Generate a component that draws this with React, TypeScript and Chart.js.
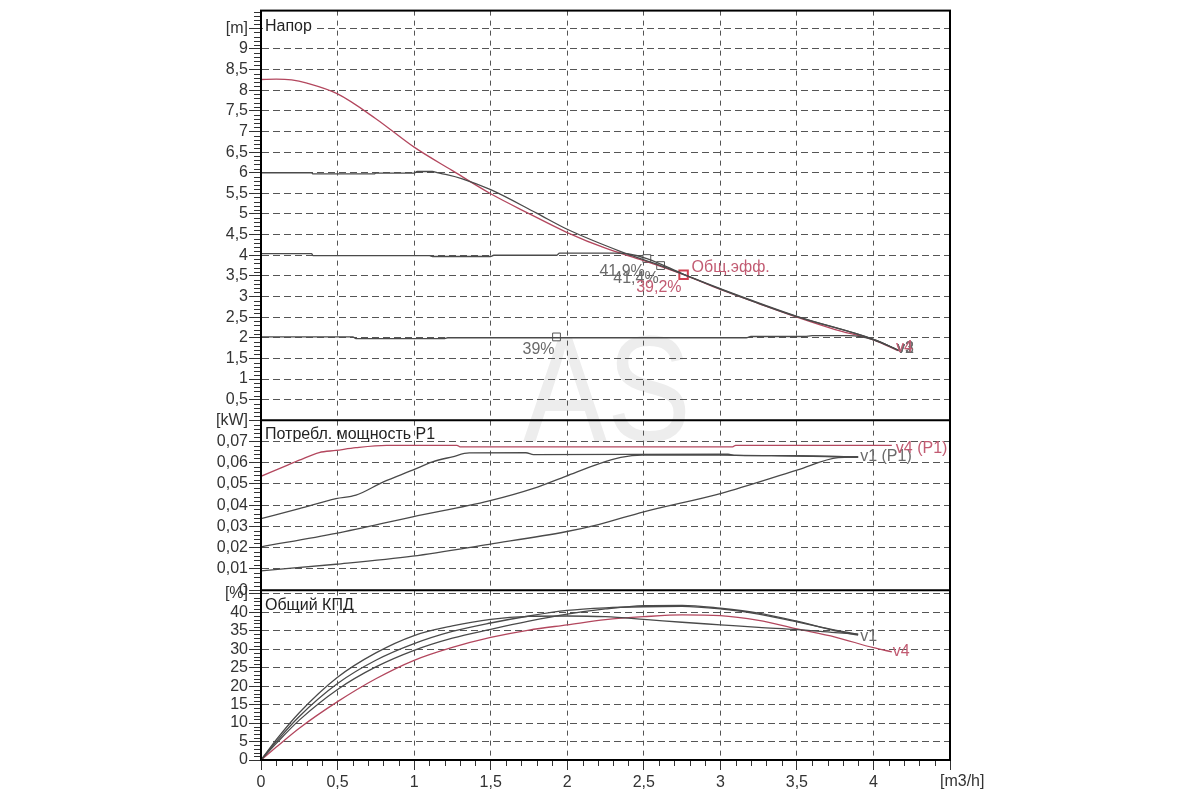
import { useEffect, useRef } from 'react';
import { Chart, registerables } from 'chart.js';

Chart.register(...registerables);

// ---------- axis ticks ----------
const X_TICKS = [0, 0.5, 1, 1.5, 2, 2.5, 3, 3.5, 4, 4.5];
const H_TICKS = [0, 0.5, 1, 1.5, 2, 2.5, 3, 3.5, 4, 4.5, 5, 5.5, 6, 6.5, 7, 7.5, 8, 8.5, 9, 9.5];
const P_TICKS = [0, 0.01, 0.02, 0.03, 0.04, 0.05, 0.06, 0.07, 0.08];
const E_TICKS = [0, 5, 10, 15, 20, 25, 30, 35, 40, 45];

// ---------- head [m] ----------
const H_Q_V4 = [0, 0.1, 0.2, 0.3, 0.5, 0.75, 1.0, 1.25, 1.5, 1.75, 2.0, 2.25, 2.5, 2.76, 3.0, 3.25, 3.5, 3.75, 4.0, 4.16];
const H_V4 = [8.26, 8.27, 8.25, 8.17, 7.91, 7.31, 6.62, 6.05, 5.49, 5.01, 4.55, 4.17, 3.87, 3.53, 3.17, 2.83, 2.5, 2.2, 1.95, 1.69];
const H_Q_V3 = [0, 0.33, 0.34, 0.74, 0.75, 1.0, 1.02, 1.12, 1.15, 1.22, 1.31, 1.5, 1.8, 2.0, 2.35, 2.61, 3.0, 3.5, 4.0, 4.18];
const H_V3 = [6.0, 6.0, 5.97, 5.97, 5.99, 5.99, 6.03, 6.03, 6.0, 5.95, 5.86, 5.59, 5.02, 4.63, 4.09, 3.75, 3.19, 2.52, 1.96, 1.67];
const H_Q_V2 = [0, 0.33, 0.34, 1.1, 1.12, 1.5, 1.52, 1.93, 1.95, 2.3, 2.4, 2.52, 2.76, 3.0, 3.5, 4.0, 4.18];
const H_V2 = [4.04, 4.04, 3.99, 3.99, 3.97, 3.97, 4.0, 4.0, 4.05, 4.05, 4.03, 3.92, 3.54, 3.18, 2.51, 1.96, 1.67];
const H_Q_V1 = [0, 0.6, 0.62, 1.2, 1.22, 3.17, 3.2, 3.55, 3.6, 3.84, 4.0, 4.18];
const H_V1 = [2.02, 2.02, 1.98, 1.98, 2.0, 2.0, 2.03, 2.03, 2.05, 2.05, 1.95, 1.67];

// efficiency markers on head curves
const MARK_Q = [1.93, 2.52, 2.61];
const MARK_H = [2.02, 3.92, 3.75];
const MARK_LABELS = ['39%', '41,9%', '41,4%'];
const MARK_RED_Q = [2.76];
const MARK_RED_H = [3.53];
const MARK_RED_LABEL = '39,2%';
const MARK_RED_NAME = 'Общ.эфф.';

// ---------- power P1 [kW] ----------
const P_Q_V4 = [0, 0.17, 0.25, 0.38, 0.49, 0.62, 0.82, 1.28, 1.3, 3.08, 3.1, 4.12];
const P_V4 = [0.0536, 0.0588, 0.0612, 0.0648, 0.0658, 0.0671, 0.0682, 0.0682, 0.0675, 0.0675, 0.0682, 0.0682];
const P_Q_V3 = [0, 0.25, 0.49, 0.62, 0.8, 0.99, 1.12, 1.25, 1.36, 1.73, 1.78, 3.05, 3.1, 3.5, 3.9];
const P_V3 = [0.0337, 0.0384, 0.0431, 0.0447, 0.051, 0.0565, 0.0604, 0.0628, 0.0646, 0.0647, 0.0638, 0.064, 0.0635, 0.0633, 0.0627];
const P_Q_V2 = [0, 0.49, 0.99, 1.49, 1.78, 1.99, 2.21, 2.35, 2.49, 3.0, 3.5, 3.9];
const P_V2 = [0.0204, 0.0267, 0.0345, 0.042, 0.0479, 0.0536, 0.0596, 0.0625, 0.0636, 0.0636, 0.0631, 0.0627];
const P_Q_V1 = [0, 0.49, 0.99, 1.49, 1.99, 2.21, 2.5, 3.0, 3.5, 3.77, 3.9];
const P_V1 = [0.0091, 0.0122, 0.016, 0.0216, 0.0275, 0.031, 0.0369, 0.0455, 0.0565, 0.0624, 0.0627];

// ---------- total efficiency [%] ----------
const E_Q = [0, 0.1, 0.25, 0.5, 0.75, 1.0, 1.25, 1.5, 1.75, 2.0, 2.25, 2.5, 2.75, 3.0, 3.25, 3.5, 3.75, 3.9];
const E_V1 = [0, 5.5, 12.8, 22.4, 29.0, 33.7, 36.3, 38.1, 38.9, 39.0, 38.8, 38.1, 37.3, 36.6, 35.9, 35.3, 34.5, 34.1];
const E_V2 = [0, 5.0, 11.8, 20.7, 27.0, 31.5, 34.8, 37.1, 39.0, 40.5, 41.2, 41.5, 41.6, 40.9, 39.5, 37.4, 35.2, 34.0];
const E_V3 = [0, 4.5, 10.8, 19.1, 25.2, 29.7, 33.0, 35.4, 37.6, 39.5, 40.9, 41.8, 41.9, 41.1, 39.8, 37.6, 35.0, 33.8];
const E_Q_V4 = [0, 0.1, 0.25, 0.5, 0.75, 1.0, 1.25, 1.5, 1.75, 2.0, 2.25, 2.5, 2.75, 3.0, 3.25, 3.5, 3.75, 4.0, 4.12];
const E_V4 = [0, 3.5, 8.6, 15.8, 22.0, 27.0, 30.5, 33.2, 35.2, 36.6, 38.0, 38.8, 39.3, 39.1, 37.8, 35.5, 33.3, 30.4, 29.3];

// ---------- texts ----------
const TITLE_H = 'Напор';
const TITLE_P = 'Потребл. мощность P1';
const TITLE_E = 'Общий КПД';
const UNIT_X = '[m3/h]';
const UNIT_H = '[m]';
const UNIT_P = '[kW]';
const UNIT_E = '[%]';
const WATERMARK = 'AS';

const RED = '#b3475e';
const RED_TEXT = '#c25b72';
const DARK = '#4a4a4a';
const GRAY_TEXT = '#6a6a6a';
const FONT = '"Liberation Sans", Arial, sans-serif';

const pts = (q: number[], v: number[]) => q.map((x, i) => ({ x, y: v[i] }));
const fmt = (v: number) => String(+v.toFixed(3)).replace('.', ',');

const curve = (label: string, q: number[], v: number[], axis: string, color: string) => ({
  type: 'line' as const,
  label,
  data: pts(q, v),
  yAxisID: axis,
  borderColor: color,
  borderWidth: 1.3,
  pointRadius: 0,
  fill: false,
  cubicInterpolationMode: 'monotone' as const,
});

export default function App() {
  const ref = useRef<HTMLCanvasElement | null>(null);

  useEffect(() => {
    if (!ref.current) return;

    const decor = {
      id: 'decor',
      beforeDraw(chart: any) {
        const { ctx } = chart;
        const x = chart.scales.x;
        const yH = chart.scales.yH;
        ctx.save();
        ctx.fillStyle = '#ededed';
        ctx.font = `150px ${FONT}`;
        ctx.textAlign = 'center';
        ctx.textBaseline = 'middle';
        const cx = x.getPixelForValue(2.26);
        const cy = yH.getPixelForValue(0.5);
        ctx.translate(cx, cy);
        ctx.scale(0.84, 1);
        ctx.fillText(WATERMARK, 0, 0);
        ctx.restore();
      },
      afterDraw(chart: any) {
        const { ctx, chartArea } = chart;
        const x = chart.scales.x;
        const yH = chart.scales.yH;
        const yP = chart.scales.yP;
        const yE = chart.scales.yE;
        ctx.save();

        // minor ticks
        ctx.strokeStyle = '#333';
        ctx.lineWidth = 1;
        const minorY = (s: any, step: number, major: number) => {
          const n = Math.floor((s.max - s.min) / step + 1e-6);
          ctx.beginPath();
          for (let i = 0; i <= n; i++) {
            const v = s.min + i * step;
            const r = v / major;
            if (Math.abs(r - Math.round(r)) < 1e-6) continue;
            const py = Math.round(s.getPixelForValue(v)) + 0.5;
            ctx.moveTo(s.right - 7, py);
            ctx.lineTo(s.right, py);
          }
          ctx.stroke();
        };
        minorY(yH, 0.1, 0.5);
        minorY(yP, 0.002, 0.01);
        minorY(yE, 1, 5);
        {
          const n = Math.round((x.max - x.min) / 0.1);
          ctx.beginPath();
          for (let i = 0; i <= n; i++) {
            if (i % 5 === 0) continue;
            const px = Math.round(x.getPixelForValue(x.min + i * 0.1)) + 0.5;
            ctx.moveTo(px, x.top);
            ctx.lineTo(px, x.top + 6);
          }
          ctx.stroke();
        }

        // frame and panel separators
        ctx.strokeStyle = '#000';
        ctx.lineWidth = 2;
        ctx.strokeRect(chartArea.left, chartArea.top, chartArea.right - chartArea.left, chartArea.bottom - chartArea.top);
        ctx.beginPath();
        ctx.moveTo(chartArea.left, yP.top);
        ctx.lineTo(chartArea.right, yP.top);
        ctx.moveTo(chartArea.left, yE.top);
        ctx.lineTo(chartArea.right, yE.top);
        ctx.stroke();

        // panel titles
        ctx.font = `16px ${FONT}`;
        ctx.textBaseline = 'middle';
        ctx.textAlign = 'left';
        const title = (t: string, y: number, bg: boolean) => {
          const w = ctx.measureText(t).width;
          if (bg) {
            ctx.fillStyle = '#fff';
            ctx.fillRect(chartArea.left + 2, y - 8, w + 4, 16);
          }
          ctx.fillStyle = '#222';
          ctx.fillText(t, chartArea.left + 4, y);
        };
        title(TITLE_H, yH.top + 16, true);
        title(TITLE_P, yP.top + 14, false);
        title(TITLE_E, yE.top + 15, false);

        // unit on x axis
        ctx.fillStyle = '#333';
        ctx.textBaseline = 'top';
        ctx.fillText(UNIT_X, x.getPixelForValue(4.5) - 10, x.top + 14);

        // marker labels
        ctx.textBaseline = 'middle';
        ctx.textAlign = 'right';
        ctx.fillStyle = GRAY_TEXT;
        MARK_Q.forEach((q, i) => {
          ctx.fillText(MARK_LABELS[i], x.getPixelForValue(q) - 2, yH.getPixelForValue(MARK_H[i]) + 13);
        });
        ctx.fillStyle = RED_TEXT;
        const rx = x.getPixelForValue(MARK_RED_Q[0]);
        const ry = yH.getPixelForValue(MARK_RED_H[0]);
        ctx.fillText(MARK_RED_LABEL, rx - 2, ry + 13);
        ctx.textAlign = 'left';
        ctx.fillText(MARK_RED_NAME, rx + 8, ry - 7);

        // end labels
        const endLabel = (t: string, s: any, q: number[], v: number[], dx: number, dy: number, color: string) => {
          const n = q.length - 1;
          ctx.fillStyle = color;
          ctx.fillText(t, x.getPixelForValue(q[n]) + dx, s.getPixelForValue(v[n]) + dy);
        };
        endLabel('v1', yH, H_Q_V1, H_V1, -4, -3, GRAY_TEXT);
        endLabel('v2', yH, H_Q_V2, H_V2, -4, -3, GRAY_TEXT);
        endLabel('v3', yH, H_Q_V3, H_V3, -4, -3, GRAY_TEXT);
        endLabel('v4', yH, H_Q_V4, H_V4, -2, -3, RED_TEXT);
        endLabel('v1 (P1)', yP, P_Q_V1, P_V1, 2, 0, GRAY_TEXT);
        endLabel('v4 (P1)', yP, P_Q_V4, P_V4, 4, 3, RED_TEXT);
        endLabel('v1', yE, E_Q, E_V1, 2, 3, GRAY_TEXT);
        endLabel('v4', yE, E_Q_V4, E_V4, 1, 0, RED_TEXT);

        ctx.restore();
      },
    };

    const yCommon = (ticks: number[], label: (v: number) => string) => ({
      type: 'linear' as const,
      position: 'left' as const,
      stack: 'panels',
      afterBuildTicks: (s: any) => {
        s.ticks = ticks.map((value) => ({ value }));
      },
      afterFit: (s: any) => {
        s.width = 261;
      },
      ticks: {
        autoSkip: false,
        padding: 1,
        color: '#333',
        font: { size: 16, family: FONT },
        callback: (v: any) => label(Number(v)),
      },
      grid: {
        color: '#555',
        lineWidth: 1,
        tickLength: 12,
        tickColor: '#333',
      },
      border: { display: true, color: '#000', width: 2, dash: [7, 4] },
    });

    const chart = new Chart(ref.current, {
      type: 'line',
      data: {
        datasets: [
          curve('v1', H_Q_V1, H_V1, 'yH', DARK),
          curve('v2', H_Q_V2, H_V2, 'yH', DARK),
          curve('v3', H_Q_V3, H_V3, 'yH', DARK),
          curve('v4', H_Q_V4, H_V4, 'yH', RED),
          curve('v1 (P1)', P_Q_V1, P_V1, 'yP', DARK),
          curve('v2 (P1)', P_Q_V2, P_V2, 'yP', DARK),
          curve('v3 (P1)', P_Q_V3, P_V3, 'yP', DARK),
          curve('v4 (P1)', P_Q_V4, P_V4, 'yP', RED),
          curve('v1 КПД', E_Q, E_V1, 'yE', DARK),
          curve('v2 КПД', E_Q, E_V2, 'yE', DARK),
          curve('v3 КПД', E_Q, E_V3, 'yE', DARK),
          curve('v4 КПД', E_Q_V4, E_V4, 'yE', RED),
          {
            type: 'line',
            label: 'eff markers',
            data: pts(MARK_Q, MARK_H),
            yAxisID: 'yH',
            showLine: false,
            pointStyle: 'rect',
            pointRadius: 5.5,
            pointBackgroundColor: '#fff',
            pointBorderColor: '#555',
            pointBorderWidth: 1,
          },
          {
            type: 'line',
            label: 'eff marker v4',
            data: pts(MARK_RED_Q, MARK_RED_H),
            yAxisID: 'yH',
            showLine: false,
            pointStyle: 'rect',
            pointRadius: 6,
            pointBackgroundColor: '#fff',
            pointBorderColor: '#d04050',
            pointBorderWidth: 2,
          },
        ] as any,
      },
      options: {
        animation: false,
        responsive: true,
        maintainAspectRatio: false,
        layout: { padding: { left: 0, top: 10, right: 250, bottom: 0 } },
        plugins: {
          legend: { display: false },
          tooltip: { enabled: false },
          title: { display: false },
        },
        events: [],
        scales: {
          x: {
            type: 'linear',
            position: 'bottom',
            min: 0,
            max: 4.5,
            afterBuildTicks: (s: any) => {
              s.ticks = X_TICKS.map((value) => ({ value }));
            },
            afterFit: (s: any) => {
              s.height = 40;
            },
            ticks: {
              autoSkip: false,
              maxRotation: 0,
              padding: 3,
              color: '#333',
              font: { size: 16, family: FONT },
              callback: (v: any) => (Number(v) >= 4.5 ? '' : fmt(Number(v))),
            },
            grid: { color: '#555', lineWidth: 1, tickLength: 10, tickColor: '#333' },
            border: { display: true, color: '#000', width: 2, dash: [5, 5] },
          },
          yH: {
            ...yCommon(H_TICKS, (v) => (v === 9.5 ? UNIT_H : v === 0 ? '' : fmt(v))),
            min: 0,
            max: 9.93,
            stackWeight: 410,
            weight: 3,
          },
          yP: {
            ...yCommon(P_TICKS, (v) => (Math.abs(v - 0.08) < 1e-9 ? UNIT_P : fmt(v))),
            min: 0,
            max: 0.08,
            stackWeight: 170,
            weight: 2,
          },
          yE: {
            ...yCommon(E_TICKS, (v) => (v === 45 ? UNIT_E : fmt(v))),
            min: 0,
            max: 46,
            stackWeight: 170,
            weight: 1,
          },
        } as any,
      },
      plugins: [decor],
    });

    return () => chart.destroy();
  }, []);

  return (
    <div style={{ position: 'fixed', left: 0, top: 0, width: 1200, height: 800, background: '#fff' }}>
      <canvas ref={ref} />
    </div>
  );
}
